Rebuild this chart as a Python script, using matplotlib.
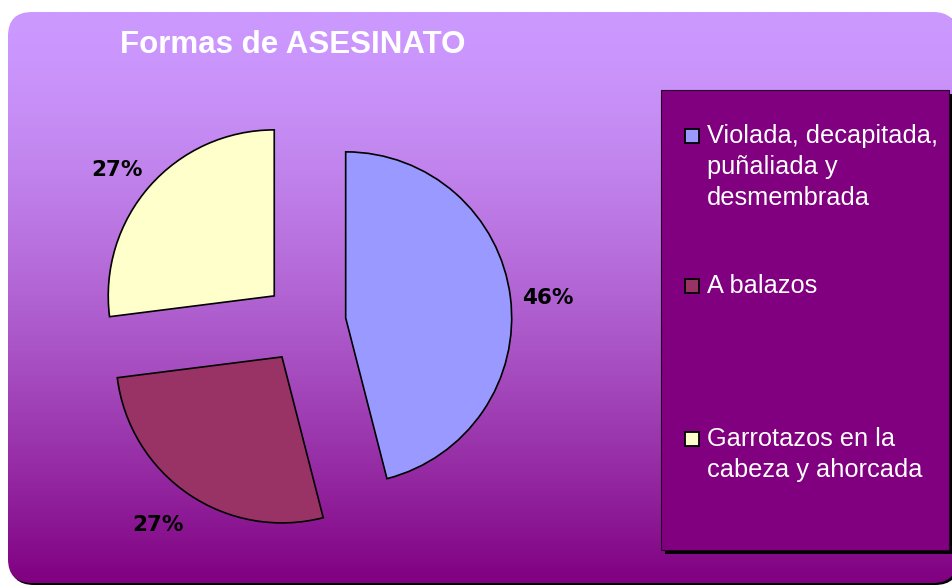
import numpy as np
import matplotlib
matplotlib.use("Agg")
import matplotlib.pyplot as plt
from matplotlib.patches import FancyBboxPatch, Rectangle

# ---- data ----
title = "Formas de ASESINATO"
categories = ["Violada, decapitada,\npuñaliada y\ndesmembrada",
              "A balazos",
              "Garrotazos en la\ncabeza y ahorcada"]
values = [46, 27, 27]
colors = ["#9999FF", "#993366", "#FFFFCC"]

W, H = 952, 585
fig = plt.figure(figsize=(W / 100, H / 100), dpi=100)
fig.patch.set_facecolor("white")
ax = fig.add_axes([0, 0, 1, 1])

# ---- pie (pixel coordinates, y down) ----
cx, cy, r = 305, 323, 166
wedges, texts, autotexts = ax.pie(
    values, colors=colors, startangle=-90, counterclock=True,
    center=(cx, cy), radius=r, explode=[41] * len(values),
    autopct="%1.0f%%", pctdistance=1.23,
    wedgeprops=dict(edgecolor="black", linewidth=1.2),
    textprops=dict(fontsize=15.5, fontweight="bold", color="black",
                   family="DejaVu Sans"))
# small label nudges (pixels) to mimic the original label placement
label_nudge = [(0, 6), (-9, -1), (-4, 9)]
for w in wedges:
    w.set_zorder(3)
for tx, (dx, dy) in zip(autotexts, label_nudge):
    x0, y0 = tx.get_position()
    tx.set_position((x0 + dx, y0 + dy))
    tx.set_zorder(4)

ax.set_xlim(0, W)
ax.set_ylim(H, 0)
ax.set_aspect("equal")
ax.axis("off")

# ---- rounded gradient background ----
bx0, by0, bx1, by1 = 8, 12, 957, 583
shadow = FancyBboxPatch((bx0 + 2, by0 + 2), bx1 - bx0, by1 - by0,
                        boxstyle="round,pad=0,rounding_size=24",
                        facecolor="black", edgecolor="none", zorder=0)
ax.add_patch(shadow)
bg = FancyBboxPatch((bx0, by0), bx1 - bx0, by1 - by0,
                    boxstyle="round,pad=0,rounding_size=24",
                    facecolor="none", edgecolor="none", zorder=1)
ax.add_patch(bg)
top = np.array([204, 153, 255]) / 255
bot = np.array([128, 0, 128]) / 255
t = np.linspace(0, 1, 256)[:, None] ** 1.5
grad = (top[None, :] * (1 - t) + bot[None, :] * t)[:, None, :]
im = ax.imshow(grad, extent=(bx0, bx1, by1, by0), aspect="auto",
               interpolation="bilinear", zorder=1)
im.set_clip_path(bg)
ax.set_xlim(0, W)
ax.set_ylim(H, 0)

# ---- title ----
ax.text(120, 53, title, color="white", fontsize=22.5, fontweight="bold",
        family="Liberation Sans", va="baseline", ha="left", zorder=5)

# ---- legend (drawn manually) ----
lx0, ly0, lx1, ly1 = 661, 90, 949, 550
ax.add_patch(Rectangle((lx0 + 4, ly0 + 4), lx1 - lx0, ly1 - ly0,
                       facecolor="black", edgecolor="none", zorder=5))
ax.add_patch(Rectangle((lx0, ly0), lx1 - lx0, ly1 - ly0,
                       facecolor="#800080", edgecolor="#2a002a",
                       linewidth=0.8, zorder=6))
first_baselines = [143, 293, 446]
pitch = 31
for lab, col, yb in zip(categories, colors, first_baselines):
    ax.add_patch(Rectangle((685, yb - 14), 14, 14, facecolor=col,
                           edgecolor="black", linewidth=1.3, zorder=7))
    for i, line in enumerate(lab.split("\n")):
        ax.text(707, yb + i * pitch, line, color="white", fontsize=18.3,
                family="Liberation Sans", va="baseline", ha="left",
                zorder=7)

fig.savefig("out.png", dpi=100)
